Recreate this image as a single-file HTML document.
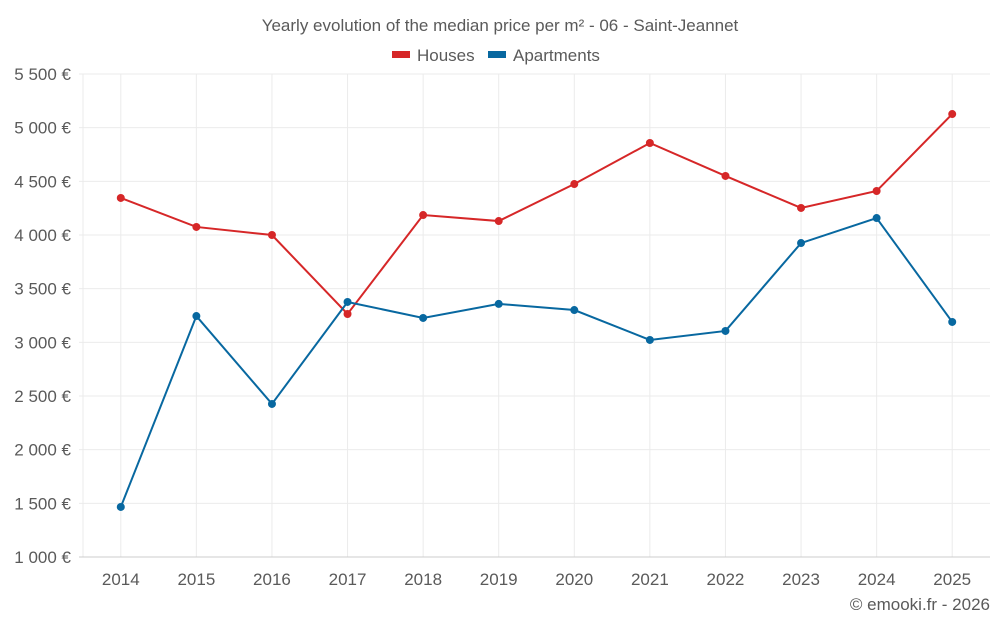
<!DOCTYPE html>
<html><head><meta charset="utf-8">
<style>
body{margin:0;background:#fff;font-family:"Liberation Sans",sans-serif;}
svg text{font-family:"Liberation Sans",sans-serif;fill:#5a5a5a;}
</style></head>
<body>
<svg id="chart" width="1000" height="625">
<text x="500" y="31" text-anchor="middle" font-size="17">Yearly evolution of the median price per m² - 06 - Saint-Jeannet</text>
<g>
<g><rect x="392" y="51" width="18" height="7" fill="#d62728"/><text x="417" y="61" font-size="17">Houses</text></g>
<g><rect x="488" y="51" width="18" height="7" fill="#0868a0"/><text x="513" y="61" font-size="17">Apartments</text></g>
</g>
<g id="grid"></g><g id="axes"></g><g id="series"></g>
<text x="990" y="610" text-anchor="end" font-size="17">© emooki.fr - 2026</text>
</svg>
<script>
const years=["2014","2015","2016","2017","2018","2019","2020","2021","2022","2023","2024","2025"];
const houses=[4345,4075,4000,3264,4186,4130,4475,4857,4550,4252,4410,5127];
const apartments=[1466,3245,2426,3376,3227,3358,3301,3022,3106,3925,4158,3190];
const yTicks=[1000,1500,2000,2500,3000,3500,4000,4500,5000,5500];
const yTickLabels=["1 000 €","1 500 €","2 000 €","2 500 €","3 000 €","3 500 €","4 000 €","4 500 €","5 000 €","5 500 €"];
const L=83,R=990,T=74,B=557,NS="http://www.w3.org/2000/svg";
const step=(R-L)/years.length;
const x=i=>L+step*(i+0.5);
const y=v=>B-(v-1000)/4500*(B-T);
function mk(tag,attrs,parent,text){const e=document.createElementNS(NS,tag);for(const k in attrs)e.setAttribute(k,attrs[k]);if(text!==undefined)e.textContent=text;document.getElementById(parent).appendChild(e);return e;}
const lg=mk("line",{x1:L,x2:L,y1:T,y2:B,stroke:"#ebebeb"},"grid");


years.forEach((yr,i)=>{
 const g=mk("line",{x1:x(i),x2:x(i),y1:T,y2:B,stroke:"#ebebeb"},"grid");
 
 
});
yTicks.forEach((v,i)=>{
 const g=mk("line",{x1:L-4,x2:R,y1:y(v),y2:y(v),stroke:i==0?"#ccc":"#ebebeb"},"grid");
 
 
 const t=mk("text",{x:71,y:y(v)+6,"text-anchor":"end","font-size":"17"},"axes",yTickLabels[i]);
 
 
});
years.forEach((yr,i)=>{
 const t=mk("text",{x:x(i),y:585,"text-anchor":"middle","font-size":"17"},"axes",yr);
 
 
});
function series(vals,color,name){
 const p=mk("polyline",{points:vals.map((v,i)=>x(i)+","+y(v)).join(" "),fill:"none",stroke:color,"stroke-width":2},"series");
 
 
 vals.forEach((v,i)=>{
  const c=mk("circle",{cx:x(i),cy:y(v),r:4,fill:color},"series");
  
  
 });
}
series(houses,"#d62728","houses");
series(apartments,"#0868a0","apartments");
</script>
</body></html>
